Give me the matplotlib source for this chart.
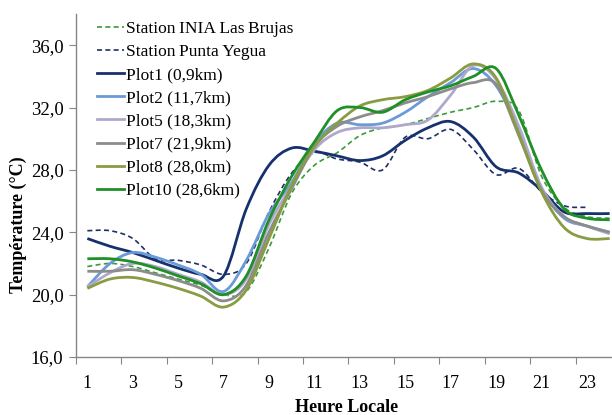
import numpy as np
import matplotlib
matplotlib.use("Agg")
import matplotlib.pyplot as plt
from matplotlib.path import Path
from matplotlib.patches import PathPatch
from matplotlib.lines import Line2D

plt.rcParams["font.family"] = ["Liberation Serif", "DejaVu Serif"]

hours = list(range(1, 25))

inia_las_brujas = [21.8, 22.0, 21.8, 21.4, 21.0, 20.6, 20.0, 20.2, 23.0, 26.5, 28.3, 29.1,
                   30.2, 30.7, 30.9, 31.3, 31.7, 32.0, 32.4, 31.8, 27.6, 25.6, 25.0, 24.9]
punta_yegua = [24.1, 24.1, 23.6, 22.3, 22.2, 21.9, 21.3, 22.0, 25.3, 27.8, 29.1, 28.7,
               28.5, 28.0, 30.1, 30.0, 30.6, 29.3, 27.7, 28.1, 26.6, 25.7, 25.6]
plot1 = [23.6, 23.1, 22.7, 22.2, 21.7, 21.3, 21.2, 25.5, 28.3, 29.4, 29.2, 28.9,
         28.6, 28.9, 29.9, 30.7, 31.1, 30.1, 28.2, 27.8, 26.7, 25.3, 25.2, 25.2]
plot2 = [20.5, 22.0, 22.7, 22.4, 21.9, 21.3, 20.2, 22.2, 25.2, 27.2, 29.7, 31.0,
         30.9, 31.0, 31.7, 32.7, 33.6, 34.5, 33.4, 30.5, 26.8, 24.9, 24.4, 24.0]
plot5 = [20.5, 21.4, 22.0, 21.8, 21.3, 20.8, 20.0, 21.0, 24.5, 27.0, 29.3, 30.4,
         30.7, 30.7, 30.9, 31.2, 32.8, 34.7, 33.8, 30.8, 26.9, 25.0, 24.4, 23.9]
plot7 = [21.5, 21.5, 21.6, 21.3, 20.9, 20.4, 19.6, 20.6, 24.0, 26.8, 29.5, 30.8,
         31.4, 31.8, 32.3, 32.7, 33.2, 33.6, 33.5, 30.2, 26.7, 25.0, 24.4, 24.0]
plot8 = [20.4, 21.0, 21.1, 20.8, 20.4, 19.9, 19.2, 20.3, 23.6, 27.0, 29.5, 31.0,
         32.1, 32.5, 32.7, 33.1, 33.9, 34.8, 33.9, 30.3, 26.6, 24.3, 23.6, 23.6]
plot10 = [22.3, 22.3, 22.1, 21.7, 21.2, 20.7, 20.0, 21.2, 24.8, 27.6, 29.8, 31.8,
          32.0, 31.7, 32.5, 33.0, 33.4, 34.0, 34.5, 31.5, 28.0, 25.5, 24.9, 24.8]

series = [
    ("Station\u2009INIA\u2009Las\u2009Brujas", inia_las_brujas, "#3c9a3c", "dash"),
    ("Station\u2009Punta\u2009Yegua", punta_yegua, "#1f2f66", "dash"),
    ("Plot1 (0,9km)", plot1, "#17306e", "solid"),
    ("Plot2 (11,7km)", plot2, "#6a9bd8", "solid"),
    ("Plot5 (18,3km)", plot5, "#b0a8cc", "solid"),
    ("Plot7 (21,9km)", plot7, "#8c8c8c", "solid"),
    ("Plot8 (28,0km)", plot8, "#8a9c42", "solid"),
    ("Plot10 (28,6km)", plot10, "#1f8f28", "solid"),
]


def smooth_path(x, y):
    # Excel-like smoothed line: cubic Bezier segments through the data points
    p = np.column_stack([x, y]).astype(float)
    ext = np.vstack([p[0], p, p[-1]])
    verts = [p[0]]
    codes = [Path.MOVETO]
    for i in range(len(p) - 1):
        p0, p1, p2, p3 = ext[i], ext[i + 1], ext[i + 2], ext[i + 3]
        verts += [p1 + (p2 - p0) / 6, p2 - (p3 - p1) / 6, p2]
        codes += [Path.CURVE4] * 3
    return Path(verts, codes)


fig = plt.figure(figsize=(6.12, 4.15), dpi=100)
ax = fig.add_axes([76 / 612, 58 / 415, 545 / 612, 343 / 415])

handles = []
for label, vals, color, style in series:
    xs = hours[:len(vals)]
    if style == "dash":
        kw = dict(linewidth=1.2, linestyle=(0, (3, 2)))
    else:
        kw = dict(linewidth=2.0, linestyle="solid")
    ax.add_patch(PathPatch(smooth_path(xs, vals), fill=False, edgecolor=color,
                           capstyle="butt", **kw))
    handles.append(Line2D([], [], color=color, **kw))

ax.set_xlim(0.5, 24.5)
ax.set_ylim(16, 38)
ax.set_yticks([16, 20, 24, 28, 32, 36])
ax.set_yticklabels([f"{v:.1f}".replace(".", ",") for v in [16, 20, 24, 28, 32, 36]])
ax.set_xticks(np.arange(0.5, 25, 2))
ax.set_xticklabels([])
ax.set_xticks(range(1, 25, 2), minor=True)
ax.set_xticklabels([str(h) for h in range(1, 25, 2)], minor=True)
ax.tick_params(axis="x", which="major", length=5, color="#868686", direction="out")
ax.tick_params(axis="x", which="minor", length=0, pad=13, labelsize=13)
ax.tick_params(axis="y", length=5, color="#868686", direction="out", labelsize=13.5, pad=4)

for side in ["top", "right"]:
    ax.spines[side].set_visible(False)
for side in ["left", "bottom"]:
    ax.spines[side].set_color("#868686")
    ax.spines[side].set_linewidth(1.0)

leg = ax.legend(handles, [s[0] for s in series], loc="upper left",
                bbox_to_anchor=(0.025, 1.0), frameon=False, fontsize=12.5,
                handlelength=1.6, handletextpad=0.1, labelspacing=0.4,
                borderaxespad=0.0)

fig.text(18 / 612, 1 - 225 / 415, "Température (°C)", rotation=90, fontsize=13,
         fontweight="bold", ha="center", va="center")
fig.text(347 / 612, 1 - 407 / 415, "Heure Locale", fontsize=13, fontweight="bold",
         ha="center", va="center")

fig.savefig("out.png", dpi=100)
